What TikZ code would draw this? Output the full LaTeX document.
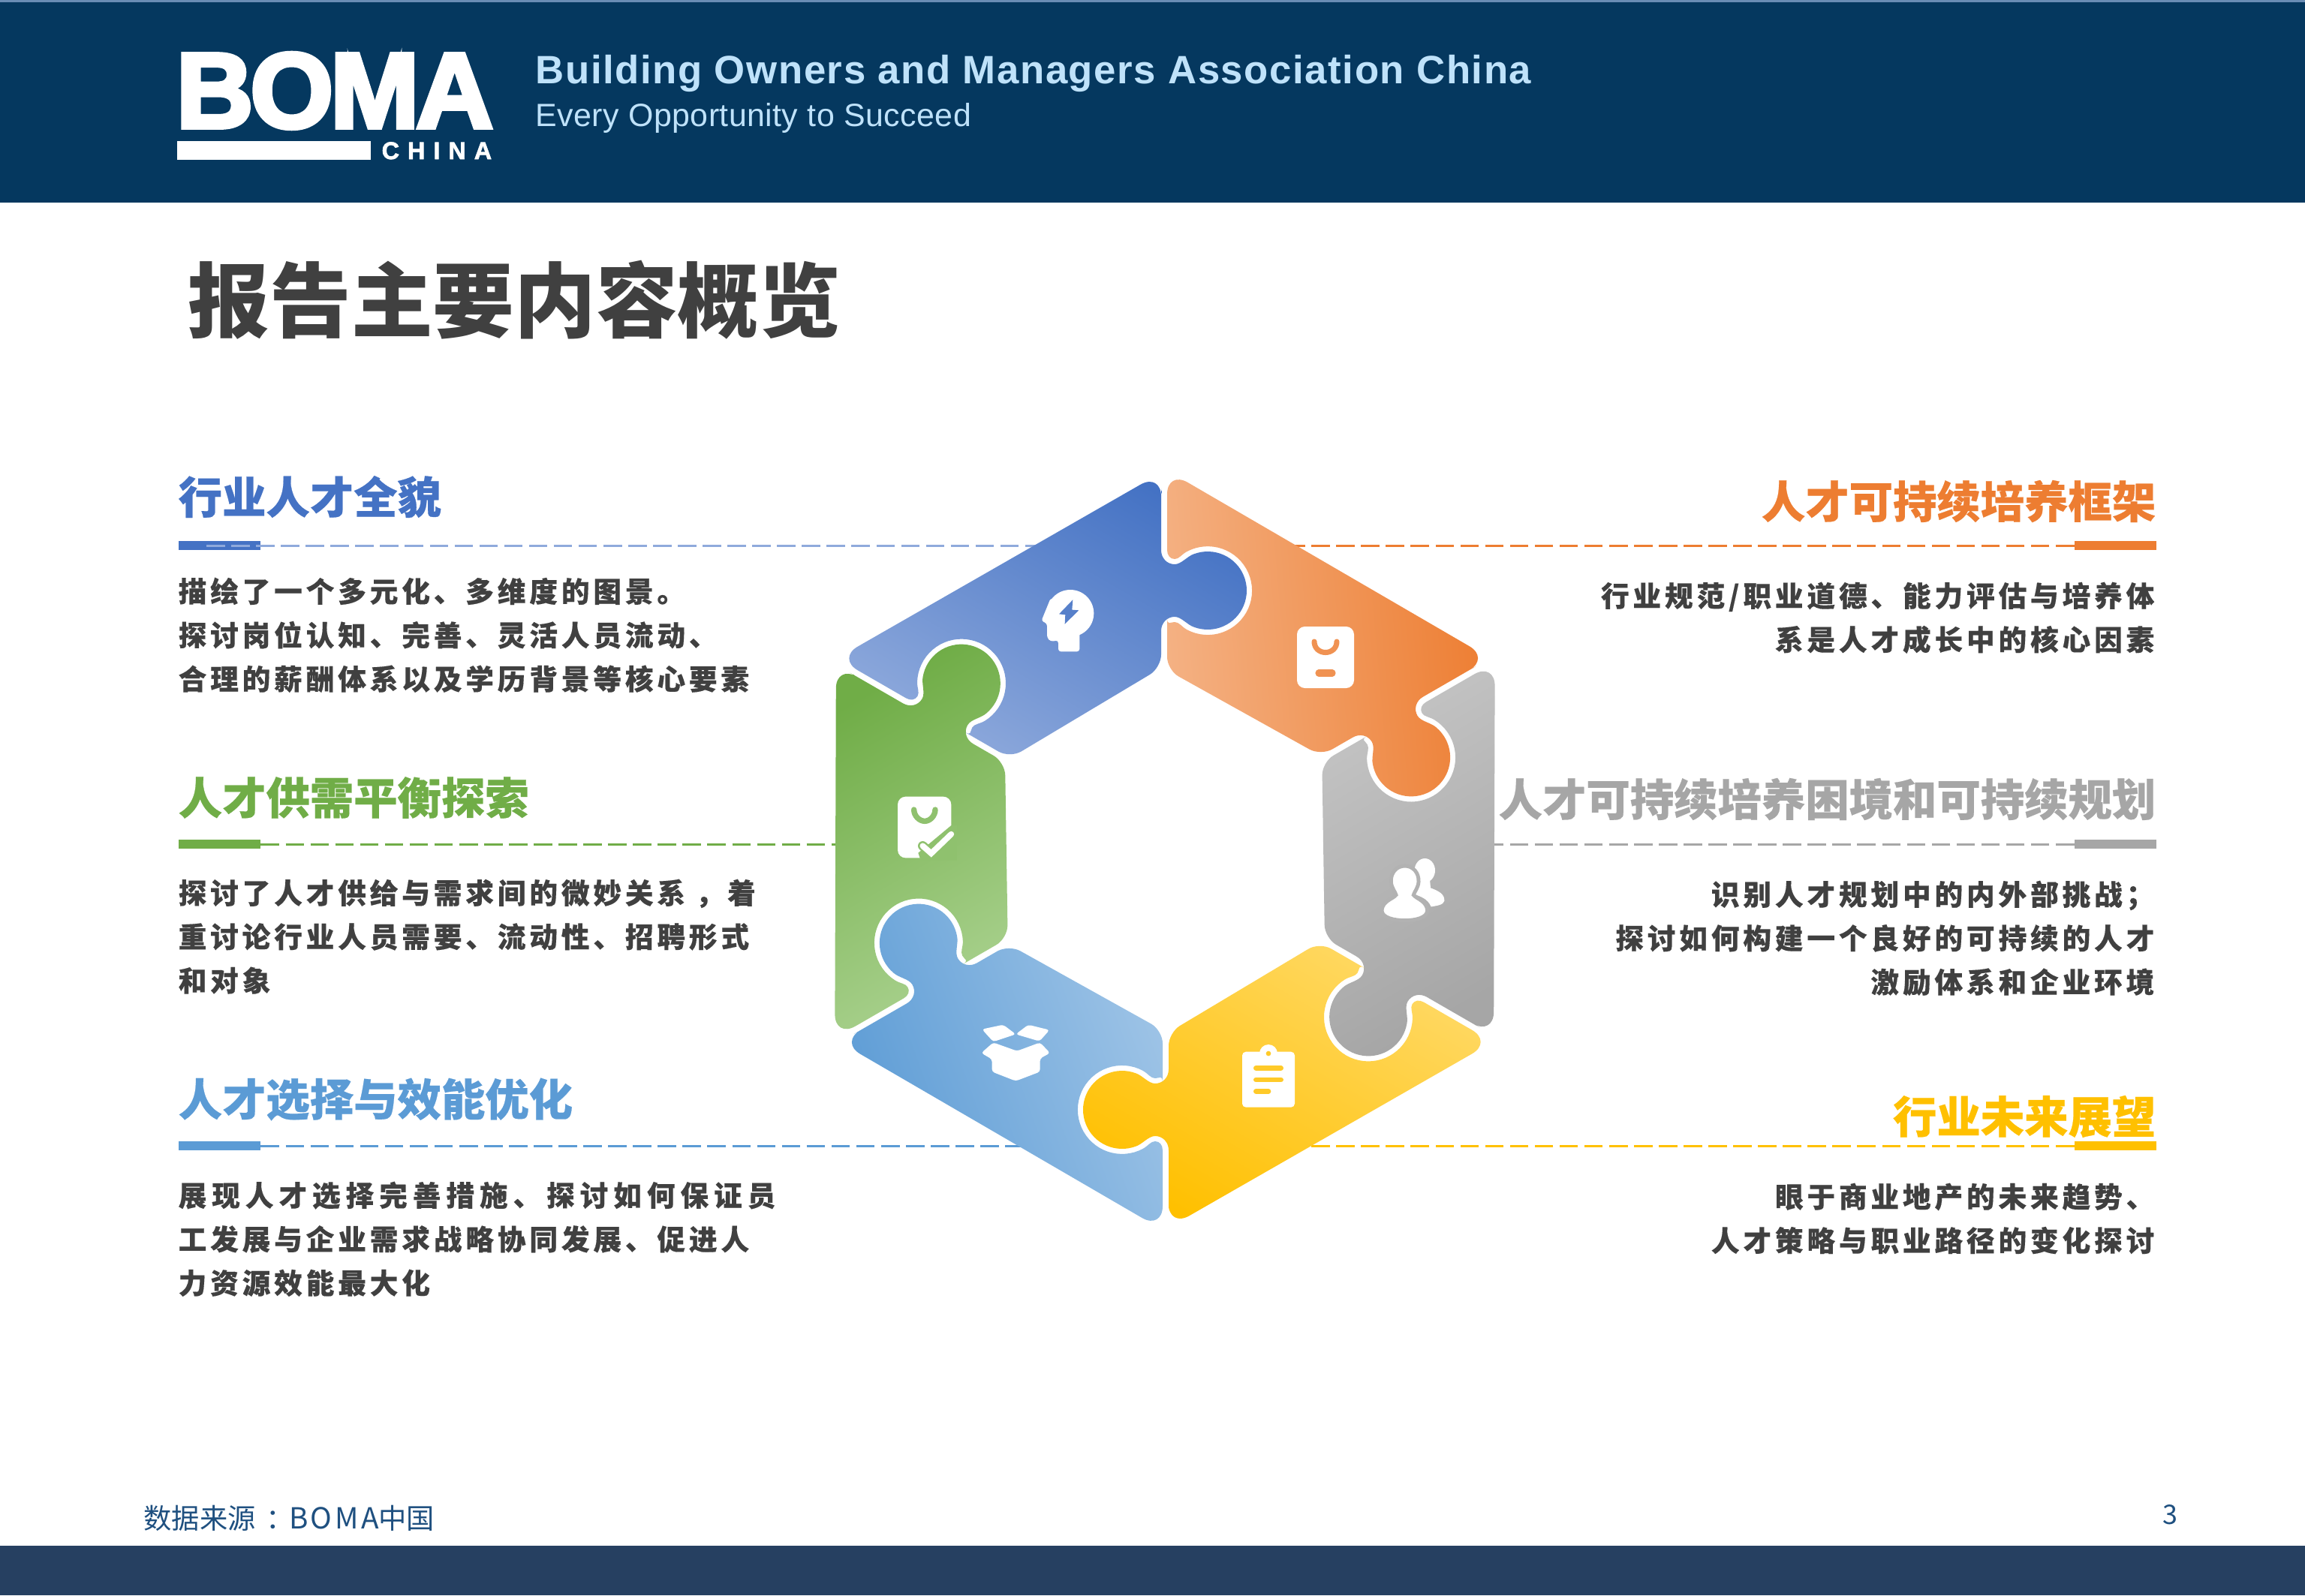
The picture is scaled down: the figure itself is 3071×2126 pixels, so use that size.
\documentclass[tikz,border=0pt]{standalone}
\usepackage{xcolor}
\usepackage{fontspec}
\usepackage{tikz}
\newfontfamily\cjkfont{Noto Sans CJK SC}
\newfontfamily\srclatin[LetterSpace=9]{Noto Sans CJK SC}
\newfontfamily\headfont[FakeBold=0.4]{Noto Sans CJK SC}
\newfontfamily\bodyfont[LetterSpace=13,FakeBold=0.3]{Noto Sans CJK SC}
\newfontfamily\bodywide[LetterSpace=18.5,FakeBold=0.3]{Noto Sans CJK SC}
\newfontfamily\latinfont[LetterSpace=3]{Liberation Sans}
\newfontfamily\mottofont[LetterSpace=1]{Liberation Sans}
\newfontfamily\logofont[FakeBold=4,LetterSpace=-3]{Liberation Sans}
\newfontfamily\chinafont[FakeBold=2,LetterSpace=34]{Liberation Sans}

\definecolor{navy}{HTML}{05385F}
\definecolor{navytop}{HTML}{6A8DB5}
\definecolor{footblue}{HTML}{264061}
\definecolor{srcblue}{HTML}{1F5080}
\definecolor{skytext}{HTML}{BFE2FA}
\definecolor{ink}{HTML}{404040}
\definecolor{blueA}{HTML}{4472C4}
\definecolor{blueB}{HTML}{8FAADC}
\definecolor{orangeA}{HTML}{ED7D31}
\definecolor{orangeB}{HTML}{F4B183}
\definecolor{grayA}{HTML}{A6A6A6}
\definecolor{grayB}{HTML}{C4C4C4}
\definecolor{yellowA}{HTML}{FFC000}
\definecolor{yellowB}{HTML}{FFD966}
\definecolor{skyA}{HTML}{5B9BD5}
\definecolor{skyB}{HTML}{9DC3E6}
\definecolor{greenA}{HTML}{70AD47}
\definecolor{greenB}{HTML}{A9D18E}

\tikzset{
  headL/.style={anchor=west,inner sep=0pt,font=\headfont\bfseries\fontsize{16.6}{20}\selectfont},
  headR/.style={anchor=east,inner sep=0pt,font=\headfont\bfseries\fontsize{16.6}{20}\selectfont},
  bodyL/.style={anchor=north west,inner sep=0pt,align=left,text=ink,font=\bodyfont\bfseries\fontsize{10.7}{16.6}\selectfont},
  bodyR/.style={anchor=north east,inner sep=0pt,align=right,text=ink,font=\bodyfont\bfseries\fontsize{10.7}{16.6}\selectfont},
  hbar/.style={inner sep=0pt,minimum width=1.09cm,minimum height=0.12cm},
  dashline/.style={line width=0.85pt,dash pattern=on 7pt off 2.4pt},
  stroke/.style={line width=#1,line cap=round},
}

\newcommand{\puzzlepath}{
  (-5,-450) -- (-5,-400)
  .. controls (-5,-389) and (3,-381) .. (13,-381)
  .. controls (22,-381) and (30,-392) .. (39.2,-394.9)
  -- plot[domain=-110:110,samples=41,variable=\a] ({57+52*cos(\a)},{-346+52*sin(\a)})
  .. controls (30,-300) and (22,-311) .. (13,-311)
  .. controls (3,-311) and (-5,-303) .. (-5,-292)
  [rounded corners=5pt] -- (-5,-243) -- ([rotate=60]3,-240) -- ([rotate=60]3,-292)
  [sharp corners] .. controls ([rotate=60]3,-299) and ([rotate=60]7,-304) .. ([rotate=60]13,-304)
  .. controls ([rotate=60]19,-304) and ([rotate=60]22.3,-297.7) .. ([rotate=60]29.3,-293.9)
  -- plot[domain=58:-178,samples=41,variable=\a] ({-271+59*cos(\a)},{-222.4+59*sin(\a)})
  .. controls ([rotate=60]22.3,-394.3) and ([rotate=60]19,-388) .. ([rotate=60]13,-388)
  .. controls ([rotate=60]7,-388) and ([rotate=60]3,-393) .. ([rotate=60]3,-400)
  [rounded corners=9pt] -- ([rotate=60]3,-506) -- (-5,-503) -- cycle
}

\begin{document}
\begin{tikzpicture}[x=0.01cm,y=-0.01cm]
\useasboundingbox (0,0) rectangle (3071,2126);
\fill[white] (0,0) rectangle (3071,2126);

% bands
\fill[navy] (0,0) rectangle (3071,270);
\fill[navytop] (0,0) rectangle (3071,3);
\fill[footblue] (0,2060) rectangle (3071,2126);

% logo
\node[anchor=base west,inner sep=0pt,text=white,font=\logofont\bfseries\fontsize{40.5}{41}\selectfont] (boma) at (234,170) {BOMA};
\fill[white] (236,188) rectangle (494,213);
\node[anchor=base west,inner sep=0pt,text=white,font=\chinafont\bfseries\fontsize{9.2}{10}\selectfont] (china) at (508,212) {CHINA};
\node[anchor=west,inner sep=0pt,text=skytext,font=\latinfont\bfseries\fontsize{15}{18}\selectfont] (assoc) at (713,98) {Building Owners and Managers Association China};
\node[anchor=west,inner sep=0pt,text=skytext,font=\mottofont\fontsize{12.2}{15}\selectfont] (motto) at (713,157) {Every Opportunity to Succeed};

\node[anchor=west,inner sep=0pt,text=ink,font=\cjkfont\bfseries\fontsize{30.9}{36}\selectfont] (title) at (250,400) {报告主要内容概览};

% rules
\node[hbar,fill=blueA,anchor=west] (barA) at (237,727) {};
\node[hbar,fill=greenA,anchor=west] (barB) at (237,1125) {};
\node[hbar,fill=skyA,anchor=west] (barC) at (237,1527) {};
\node[hbar,fill=orangeA,anchor=east] (barD) at (2874,727) {};
\node[hbar,fill=grayA,anchor=east] (barE) at (2874,1125) {};
\node[hbar,fill=yellowA,anchor=east] (barF) at (2874,1527) {};
\coordinate (startA) at (275,727);
\coordinate (endA) at (1400,727);
\coordinate (endB) at (1130,1125);
\coordinate (endC) at (1400,1527);
\coordinate (endD) at (1700,727);
\coordinate (endE) at (1980,1125);
\coordinate (endF) at (1700,1527);
\draw[dashline,blueB] (startA) -- (endA);
\draw[dashline,greenA] (barB.east) -- (endB);
\draw[dashline,skyA] (barC.east) -- (endC);
\draw[dashline,orangeA] (barD.west) -- (endD);
\draw[dashline,grayA] (barE.west) -- (endE);
\draw[dashline,yellowA] (barF.west) -- (endF);

% headings
\node[headL,text=blueA] (headA) at (237,662) {行业人才全貌};
\node[headL,text=greenA] (headB) at (237,1063) {人才供需平衡探索};
\node[headL,text=skyA] (headC) at (237,1465) {人才选择与效能优化};
\node[headR,text=orangeA] (headD) at (2873,668) {人才可持续培养框架};
\node[headR,text=grayA] (headE) at (2873,1065) {人才可持续培养困境和可持续规划};
\node[headR,text=yellowA] (headF) at (2873,1488) {行业未来展望};

% texts
\node[bodyL] (textA) at (237,769) {描绘了一个多元化、多维度的图景。\\探讨岗位认知、完善、灵活人员流动、\\合理的薪酬体系以及学历背景等核心要素};
\node[bodyL] (textB) at (237,1171) {探讨了人才供给与需求间的微妙关系 ，着\\重讨论行业人员需要、流动性、招聘形式\\和对象};
\node[bodyL] (textC) at (237,1574) {{\bodywide\bfseries 展现人才选择完善措施、探讨如何保证员}\\工发展与企业需求战略协同发展、促进人\\力资源效能最大化};
\node[bodyR] (textD) at (2871,775) {行业规范/职业道德、能力评估与培养体\\系是人才成长中的核心因素};
\node[bodyR] (textE) at (2871,1173) {识别人才规划中的内外部挑战；\\探讨如何构建一个良好的可持续的人才\\激励体系和企业环境};
\node[bodyR] (textF) at (2871,1576) {眼于商业地产的未来趋势、\\人才策略与职业路径的变化探讨};

% footer
\node[anchor=west,inner sep=0pt,text=srcblue,font=\cjkfont\fontsize{10.6}{12}\selectfont] (source) at (191,2023) {数据来源\hspace{4pt}：\hspace{-2pt}{\srclatin\fontsize{11}{12}\selectfont BOMA}中国};
\node[inner sep=0pt,text=srcblue,font=\cjkfont\fontsize{10.2}{12}\selectfont] (page) at (2891,2019) {3};

% puzzle ring
\begin{scope}[shift={(1552,1133)}]
\foreach \rot/\cA/\cB/\ang in {0/blueA/blueB/-30,-60/orangeA/orangeB/-85,-120/grayB/grayA/30,-180/yellowB/yellowA/-30,-240/skyB/skyA/-70,-300/greenA/greenB/30}{
  \begin{scope}[rotate=\rot]
    \shade[top color=\cA,bottom color=\cB,shading angle=\ang] \puzzlepath;
  \end{scope}
}
\end{scope}

% head icon
\begin{scope}[shift={(1350,760)},scale=0.3333]
\fill[white] (228,172) circle[radius=94];
\fill[white,rounded corners=1pt] (150,110) -- (112,203) -- (135,212) -- (135,270) -- (150,285) -- (180,280) -- (180,325) -- (265,325) -- (265,220) -- cycle;
\fill[blueA!75!blueB] (238,118) -- (183,175) -- (208,178) -- (206,215) -- (262,160) -- (235,158) -- cycle;
\end{scope}

% bag icon
\fill[white,rounded corners=3pt] (1728,835) rectangle (1804,917);
\draw[stroke=2pt,orangeA!60!orangeB] (1751,855) .. controls (1751,864) and (1758,869.5) .. (1766,869.5) .. controls (1774,869.5) and (1781,864) .. (1781,855);
\draw[stroke=2.6pt,orangeA!60!orangeB] (1757,897) -- (1775,897);

% bag with check icon
\begin{scope}[shift={(1180,1050)},scale=0.3333]
\fill[white,rounded corners=3pt] (48,35) rectangle (262,280);
\fill[greenA!45!greenB] (140,290) -- (285,290) -- (285,150) -- (262,150) -- (130,260) -- cycle;
\draw[stroke=2.1pt,greenA!45!greenB] (113,87) .. controls (113,112) and (135,133) .. (156,133) .. controls (177,133) and (198,112) .. (198,87);
\draw[stroke=3.6pt,greenA!45!greenB] (148,232) -- (182,262) -- (262,185);
\draw[stroke=2.2pt,white] (148,232) -- (182,262) -- (262,185);
\end{scope}

% people icon
\begin{scope}[shift={(1830,1130)},scale=0.3333]
\fill[white] (205,90) ellipse[x radius=41,y radius=48];
\fill[white] (190,130) -- (225,125) -- (228,160) .. controls (260,172) and (285,185) .. (283,212) .. controls (280,228) and (250,232) .. (230,235) .. controls (215,200) and (185,195) .. (165,185) -- cycle;
\filldraw[fill=white,draw=grayA!60!grayB,line width=1.4pt] (125,72) .. controls (158,72) and (182,100) .. (180,135) .. controls (179,160) and (163,175) .. (160,188) .. controls (170,203) and (213,212) .. (215,250) .. controls (215,280) and (165,290) .. (125,290) .. controls (85,290) and (33,280) .. (33,250) .. controls (35,212) and (80,203) .. (90,188) .. controls (87,175) and (71,160) .. (70,135) .. controls (68,100) and (92,72) .. (125,72) -- cycle;
\end{scope}

% clipboard icon
\begin{scope}[shift={(1640,1380)},scale=0.3333]
\fill[white] (150,72) circle[radius=36];
\fill[white,rounded corners=1.4pt] (45,65) rectangle (255,287);
\fill[yellowA!60!yellowB] (150,72) circle[radius=10];
\draw[stroke=1.9pt,yellowA!60!yellowB] (100,130) -- (200,130);
\draw[stroke=1.9pt,yellowA!60!yellowB] (100,177) -- (200,177);
\draw[stroke=1.9pt,yellowA!60!yellowB] (100,223) -- (150,223);
\end{scope}

% box icon
\begin{scope}[shift={(1290,1350)},scale=0.3333]
\fill[white,rounded corners=1pt] (55,65) -- (140,47) -- (190,85) -- (100,115) -- cycle;
\fill[white,rounded corners=1pt] (240,47) -- (325,68) -- (285,113) -- (190,85) -- cycle;
\fill[white,rounded corners=1pt] (100,118) -- (195,152) -- (287,118) -- (327,160) -- (287,182) -- (287,235) -- (190,272) -- (95,235) -- (95,185) -- (52,160) -- cycle;
\end{scope}
\end{tikzpicture}
\end{document}
